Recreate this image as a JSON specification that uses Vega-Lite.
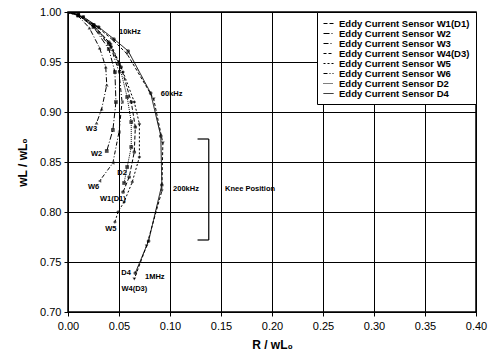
{
  "$schema": "https://vega.github.io/schema/vega-lite/v6.json",
  "width": 408,
  "height": 300,
  "autosize": {"type": "none"},
  "padding": {"left": 68, "top": 12, "right": 14, "bottom": 51},
  "background": "white",
  "config": {
    "view": {"stroke": "black", "strokeWidth": 1.5},
    "font": "Liberation Sans",
    "axis": {"labelFlush": false, "gridColor": "black", "gridOpacity": 1, "gridWidth": 1, "domainColor": "black", "tickColor": "black", "labelColor": "black", "titleColor": "black", "labelFontSize": 11, "titleFontSize": 12, "titleFontWeight": "bold"}
  },
  "resolve": {"legend": {"shape": "independent", "strokeDash": "independent"}},
  "datasets": {
    "curves": [
      {"s": "Eddy Current Sensor W1(D1)", "i": 0, "x": 0, "y": 1},
      {"s": "Eddy Current Sensor W1(D1)", "i": 1, "x": 0.01, "y": 0.997},
      {"s": "Eddy Current Sensor W1(D1)", "i": 2, "x": 0.025, "y": 0.987},
      {"s": "Eddy Current Sensor W1(D1)", "i": 3, "x": 0.04, "y": 0.97},
      {"s": "Eddy Current Sensor W1(D1)", "i": 4, "x": 0.052, "y": 0.945},
      {"s": "Eddy Current Sensor W1(D1)", "i": 5, "x": 0.062, "y": 0.91},
      {"s": "Eddy Current Sensor W1(D1)", "i": 6, "x": 0.066, "y": 0.885},
      {"s": "Eddy Current Sensor W1(D1)", "i": 7, "x": 0.065, "y": 0.86},
      {"s": "Eddy Current Sensor W1(D1)", "i": 8, "x": 0.06, "y": 0.835},
      {"s": "Eddy Current Sensor W1(D1)", "i": 9, "x": 0.054, "y": 0.82},
      {"s": "Eddy Current Sensor W2", "i": 0, "x": 0, "y": 1},
      {"s": "Eddy Current Sensor W2", "i": 1, "x": 0.01, "y": 0.997},
      {"s": "Eddy Current Sensor W2", "i": 2, "x": 0.025, "y": 0.985},
      {"s": "Eddy Current Sensor W2", "i": 3, "x": 0.04, "y": 0.963},
      {"s": "Eddy Current Sensor W2", "i": 4, "x": 0.046, "y": 0.94},
      {"s": "Eddy Current Sensor W2", "i": 5, "x": 0.047, "y": 0.91},
      {"s": "Eddy Current Sensor W2", "i": 6, "x": 0.044, "y": 0.882},
      {"s": "Eddy Current Sensor W2", "i": 7, "x": 0.038, "y": 0.861},
      {"s": "Eddy Current Sensor W3", "i": 0, "x": 0, "y": 1},
      {"s": "Eddy Current Sensor W3", "i": 1, "x": 0.01, "y": 0.996},
      {"s": "Eddy Current Sensor W3", "i": 2, "x": 0.021, "y": 0.984},
      {"s": "Eddy Current Sensor W3", "i": 3, "x": 0.031, "y": 0.964},
      {"s": "Eddy Current Sensor W3", "i": 4, "x": 0.037, "y": 0.945},
      {"s": "Eddy Current Sensor W3", "i": 5, "x": 0.038, "y": 0.927},
      {"s": "Eddy Current Sensor W3", "i": 6, "x": 0.033, "y": 0.903},
      {"s": "Eddy Current Sensor W3", "i": 7, "x": 0.028, "y": 0.889},
      {"s": "Eddy Current Sensor W4(D3)", "i": 0, "x": 0, "y": 1},
      {"s": "Eddy Current Sensor W4(D3)", "i": 1, "x": 0.005, "y": 0.999},
      {"s": "Eddy Current Sensor W4(D3)", "i": 2, "x": 0.015, "y": 0.995},
      {"s": "Eddy Current Sensor W4(D3)", "i": 3, "x": 0.03, "y": 0.984},
      {"s": "Eddy Current Sensor W4(D3)", "i": 4, "x": 0.045, "y": 0.971},
      {"s": "Eddy Current Sensor W4(D3)", "i": 5, "x": 0.058, "y": 0.958},
      {"s": "Eddy Current Sensor W4(D3)", "i": 6, "x": 0.084, "y": 0.913},
      {"s": "Eddy Current Sensor W4(D3)", "i": 7, "x": 0.093, "y": 0.869},
      {"s": "Eddy Current Sensor W4(D3)", "i": 8, "x": 0.092, "y": 0.821},
      {"s": "Eddy Current Sensor W4(D3)", "i": 9, "x": 0.077, "y": 0.766},
      {"s": "Eddy Current Sensor W4(D3)", "i": 10, "x": 0.065, "y": 0.733},
      {"s": "Eddy Current Sensor W5", "i": 0, "x": 0, "y": 1},
      {"s": "Eddy Current Sensor W5", "i": 1, "x": 0.01, "y": 0.997},
      {"s": "Eddy Current Sensor W5", "i": 2, "x": 0.025, "y": 0.986},
      {"s": "Eddy Current Sensor W5", "i": 3, "x": 0.042, "y": 0.968},
      {"s": "Eddy Current Sensor W5", "i": 4, "x": 0.054, "y": 0.94},
      {"s": "Eddy Current Sensor W5", "i": 5, "x": 0.065, "y": 0.91},
      {"s": "Eddy Current Sensor W5", "i": 6, "x": 0.07, "y": 0.888},
      {"s": "Eddy Current Sensor W5", "i": 7, "x": 0.07, "y": 0.855},
      {"s": "Eddy Current Sensor W5", "i": 8, "x": 0.063, "y": 0.83},
      {"s": "Eddy Current Sensor W5", "i": 9, "x": 0.055, "y": 0.81},
      {"s": "Eddy Current Sensor W5", "i": 10, "x": 0.049, "y": 0.8},
      {"s": "Eddy Current Sensor W5", "i": 11, "x": 0.046, "y": 0.79},
      {"s": "Eddy Current Sensor W6", "i": 0, "x": 0, "y": 1},
      {"s": "Eddy Current Sensor W6", "i": 1, "x": 0.01, "y": 0.997},
      {"s": "Eddy Current Sensor W6", "i": 2, "x": 0.025, "y": 0.985},
      {"s": "Eddy Current Sensor W6", "i": 3, "x": 0.042, "y": 0.965},
      {"s": "Eddy Current Sensor W6", "i": 4, "x": 0.05, "y": 0.94},
      {"s": "Eddy Current Sensor W6", "i": 5, "x": 0.053, "y": 0.91},
      {"s": "Eddy Current Sensor W6", "i": 6, "x": 0.05, "y": 0.88},
      {"s": "Eddy Current Sensor W6", "i": 7, "x": 0.044, "y": 0.849},
      {"s": "Eddy Current Sensor W6", "i": 8, "x": 0.031, "y": 0.831},
      {"s": "Eddy Current Sensor D2", "i": 0, "x": 0, "y": 1},
      {"s": "Eddy Current Sensor D2", "i": 1, "x": 0.01, "y": 0.997},
      {"s": "Eddy Current Sensor D2", "i": 2, "x": 0.025, "y": 0.987},
      {"s": "Eddy Current Sensor D2", "i": 3, "x": 0.04, "y": 0.968},
      {"s": "Eddy Current Sensor D2", "i": 4, "x": 0.05, "y": 0.948},
      {"s": "Eddy Current Sensor D2", "i": 5, "x": 0.058, "y": 0.915},
      {"s": "Eddy Current Sensor D2", "i": 6, "x": 0.062, "y": 0.89},
      {"s": "Eddy Current Sensor D2", "i": 7, "x": 0.062, "y": 0.865},
      {"s": "Eddy Current Sensor D2", "i": 8, "x": 0.058, "y": 0.845},
      {"s": "Eddy Current Sensor D2", "i": 9, "x": 0.055, "y": 0.829},
      {"s": "Eddy Current Sensor D4", "i": 0, "x": 0, "y": 1},
      {"s": "Eddy Current Sensor D4", "i": 1, "x": 0.005, "y": 0.999},
      {"s": "Eddy Current Sensor D4", "i": 2, "x": 0.015, "y": 0.995},
      {"s": "Eddy Current Sensor D4", "i": 3, "x": 0.03, "y": 0.985},
      {"s": "Eddy Current Sensor D4", "i": 4, "x": 0.045, "y": 0.973},
      {"s": "Eddy Current Sensor D4", "i": 5, "x": 0.059, "y": 0.961},
      {"s": "Eddy Current Sensor D4", "i": 6, "x": 0.081, "y": 0.919},
      {"s": "Eddy Current Sensor D4", "i": 7, "x": 0.091, "y": 0.876},
      {"s": "Eddy Current Sensor D4", "i": 8, "x": 0.092, "y": 0.827},
      {"s": "Eddy Current Sensor D4", "i": 9, "x": 0.079, "y": 0.771},
      {"s": "Eddy Current Sensor D4", "i": 10, "x": 0.066, "y": 0.739}
    ],
    "labelsLeft": [
      {"t": "10kHz", "x": 0.05, "y": 0.98},
      {"t": "60kHz", "x": 0.091, "y": 0.918},
      {"t": "200kHz", "x": 0.103, "y": 0.823},
      {"t": "Knee Position", "x": 0.154, "y": 0.823},
      {"t": "1MHz", "x": 0.0755, "y": 0.735}
    ],
    "labelsCenter": [
      {"t": "W3", "x": 0.023, "y": 0.883},
      {"t": "W2", "x": 0.028, "y": 0.858},
      {"t": "D2", "x": 0.053, "y": 0.839},
      {"t": "W6", "x": 0.025, "y": 0.825},
      {"t": "W1(D1)", "x": 0.044, "y": 0.813},
      {"t": "W5", "x": 0.042, "y": 0.783},
      {"t": "D4", "x": 0.057, "y": 0.739},
      {"t": "W4(D3)", "x": 0.065, "y": 0.723}
    ],
    "bracket": [
      {"x": 0.138, "x2": 0.138, "y": 0.873, "y2": 0.772},
      {"x": 0.127, "x2": 0.138, "y": 0.873, "y2": 0.873},
      {"x": 0.127, "x2": 0.138, "y": 0.772, "y2": 0.772}
    ]
  },
  "layer": [
    {
      "data": {"name": "curves"},
      "mark": {"type": "line", "color": "black", "strokeWidth": 1, "clip": true},
      "encoding": {
        "x": {"field": "x", "type": "quantitative", "scale": {"domain": [0, 0.4], "nice": false}, "axis": {"values": [0, 0.05, 0.1, 0.15, 0.2, 0.25, 0.3, 0.35, 0.4], "format": ".2f", "title": "R / wL₀", "tickSize": 4, "labelPadding": 4, "titlePadding": 8}},
        "y": {"field": "y", "type": "quantitative", "scale": {"domain": [0.7, 1.0], "nice": false, "zero": false}, "axis": {"values": [0.7, 0.75, 0.8, 0.85, 0.9, 0.95, 1.0], "format": ".2f", "title": "wL / wL₀", "tickSize": 4, "labelPadding": 3, "titlePadding": 10}},
        "order": {"field": "i", "type": "quantitative"},
        "detail": {"field": "s"},
        "strokeDash": {"field": "s", "type": "nominal", "sort": null,
          "scale": {"domain": ["Eddy Current Sensor W1(D1)", "Eddy Current Sensor W2", "Eddy Current Sensor W3", "Eddy Current Sensor W4(D3)", "Eddy Current Sensor W5", "Eddy Current Sensor W6", "Eddy Current Sensor D2", "Eddy Current Sensor D4"],
                    "range": [[4, 2], [6, 2, 1, 2], [5, 2, 1, 2], [3, 2], [2, 2], [4, 2, 1, 2], [1, 1], [1, 0]]},
          "legend": {"title": null, "orient": "top-right", "offset": 0, "fillColor": "white", "strokeColor": "black", "padding": 6, "labelFontSize": 9.5, "labelFontWeight": "bold", "labelFont": "Liberation Sans", "labelColor": "black", "symbolType": "stroke", "symbolSize": 100, "symbolStrokeColor": "black", "symbolStrokeWidth": 1, "rowPadding": 0, "labelLimit": 200, "labelOffset": 5}}
      }
    },
    {
      "data": {"name": "curves"},
      "mark": {"type": "point", "filled": true, "color": "black", "size": 14, "clip": true},
      "encoding": {
        "x": {"field": "x", "type": "quantitative"},
        "y": {"field": "y", "type": "quantitative"},
        "shape": {"field": "s", "type": "nominal", "legend": null,
          "scale": {"domain": ["Eddy Current Sensor W1(D1)", "Eddy Current Sensor W2", "Eddy Current Sensor W3", "Eddy Current Sensor W4(D3)", "Eddy Current Sensor W5", "Eddy Current Sensor W6", "Eddy Current Sensor D2", "Eddy Current Sensor D4"],
                    "range": ["circle", "square", "triangle-up", "triangle-down", "diamond", "triangle-left", "square", "circle"]}}
      }
    },
    {
      "data": {"name": "bracket"},
      "mark": {"type": "rule", "color": "black", "strokeWidth": 1.2},
      "encoding": {
        "x": {"field": "x", "type": "quantitative"},
        "x2": {"field": "x2"},
        "y": {"field": "y", "type": "quantitative"},
        "y2": {"field": "y2"}
      }
    },
    {
      "data": {"name": "labelsLeft"},
      "mark": {"type": "text", "fontSize": 7.5, "fontWeight": "bold", "color": "black", "baseline": "middle", "align": "left"},
      "encoding": {
        "x": {"field": "x", "type": "quantitative"},
        "y": {"field": "y", "type": "quantitative"},
        "text": {"field": "t"}
      }
    },
    {
      "data": {"name": "labelsCenter"},
      "mark": {"type": "text", "fontSize": 7.5, "fontWeight": "bold", "color": "black", "baseline": "middle", "align": "center"},
      "encoding": {
        "x": {"field": "x", "type": "quantitative"},
        "y": {"field": "y", "type": "quantitative"},
        "text": {"field": "t"}
      }
    }
  ]
}
